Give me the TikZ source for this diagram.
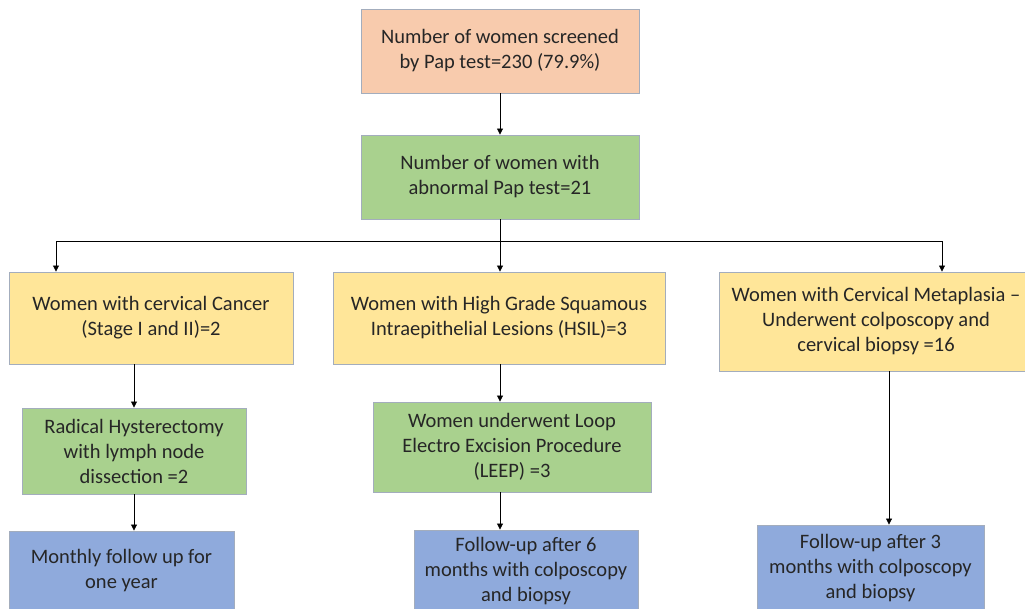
\documentclass[tikz,border=0pt]{standalone}
\usepackage{fontspec}
\setmainfont{Carlito}
\usetikzlibrary{arrows.meta}
\definecolor{bordc}{HTML}{A3ADBD}
\definecolor{salmon}{HTML}{F8CBAD}
\definecolor{greenf}{HTML}{A9D18E}
\definecolor{yellowf}{HTML}{FFE699}
\definecolor{bluef}{HTML}{8FAADC}
\tikzset{
  box/.style={draw=bordc, line width=0.9pt, align=center, inner sep=0pt,
    font=\fontsize{20.5}{25}\selectfont, text=black!85},
  arr/.style={line width=0.8pt, -{Triangle[length=6pt,width=6pt]}},
  ln/.style={line width=0.8pt}
}
\begin{document}
\begin{tikzpicture}[x=1pt,y=-1pt]
\useasboundingbox (0,0) rectangle (1025,608);
\clip (0,0) rectangle (1025,608);
\fill[white] (0,0) rectangle (1025,608);
\node[box, fill=salmon, minimum width=278pt, minimum height=84pt] (top) at (500,51)
  {Number of women screened\\by Pap test=230 (79.9\%)};
\node[box, fill=greenf, minimum width=278pt, minimum height=84pt] (abn) at (500,177)
  {Number of women with\\abnormal Pap test=21};
\node[box, fill=yellowf, minimum width=284pt, minimum height=92pt] (y1) at (151,318)
  {Women with cervical Cancer\\(Stage I and II)=2};
\node[box, fill=yellowf, minimum width=332pt, minimum height=92pt] (y2) at (499,318)
  {Women with High Grade Squamous\\Intraepithelial Lesions (HSIL)=3};
\node[box, fill=yellowf, minimum width=314pt, minimum height=99pt] (y3) at (876,321.5)
  {Women with Cervical Metaplasia --\\Underwent colposcopy and\\cervical biopsy =16};
\node[box, fill=greenf, minimum width=224pt, minimum height=86pt] (g1) at (134,451)
  {Radical Hysterectomy\\with lymph node\\dissection =2};
\node[box, fill=greenf, minimum width=278pt, minimum height=90pt] (g2) at (512,447)
  {Women underwent Loop\\Electro Excision Procedure\\(LEEP) =3};
\node[box, fill=bluef, minimum width=225pt, minimum height=80pt] (b1) at (121.5,571)
  {Monthly follow up for\\one year};
\node[box, fill=bluef, minimum width=224pt, minimum height=82pt] (b2) at (526,571)
  {Follow-up after 6\\months with colposcopy\\and biopsy};
\node[box, fill=bluef, minimum width=227pt, minimum height=86pt] (b3) at (870.5,568)
  {Follow-up after 3\\months with colposcopy\\and biopsy};
\coordinate (j) at (500,241);
\coordinate (jl) at (56,241);
\coordinate (jr) at (942,241);
\coordinate (mx) at (500,0);
\coordinate (rx) at (889,0);
\draw[arr] (top) -- (abn);
\draw[ln] (abn.south) -- (j);
\draw[ln] (jl) -- (jr);
\draw[arr] (jl) -- (jl |- y1.north);
\draw[arr] (j) -- (j |- y2.north);
\draw[arr] (jr) -- (jr |- y3.north);
\draw[arr] (g1.north |- y1.south) -- (g1.north);
\draw[arr] (g1.south) -- (g1.south |- b1.north);
\draw[arr] (mx |- y2.south) -- (mx |- g2.north);
\draw[arr] (mx |- g2.south) -- (mx |- b2.north);
\draw[arr] (rx |- y3.south) -- (rx |- b3.north);
\end{tikzpicture}
\end{document}
